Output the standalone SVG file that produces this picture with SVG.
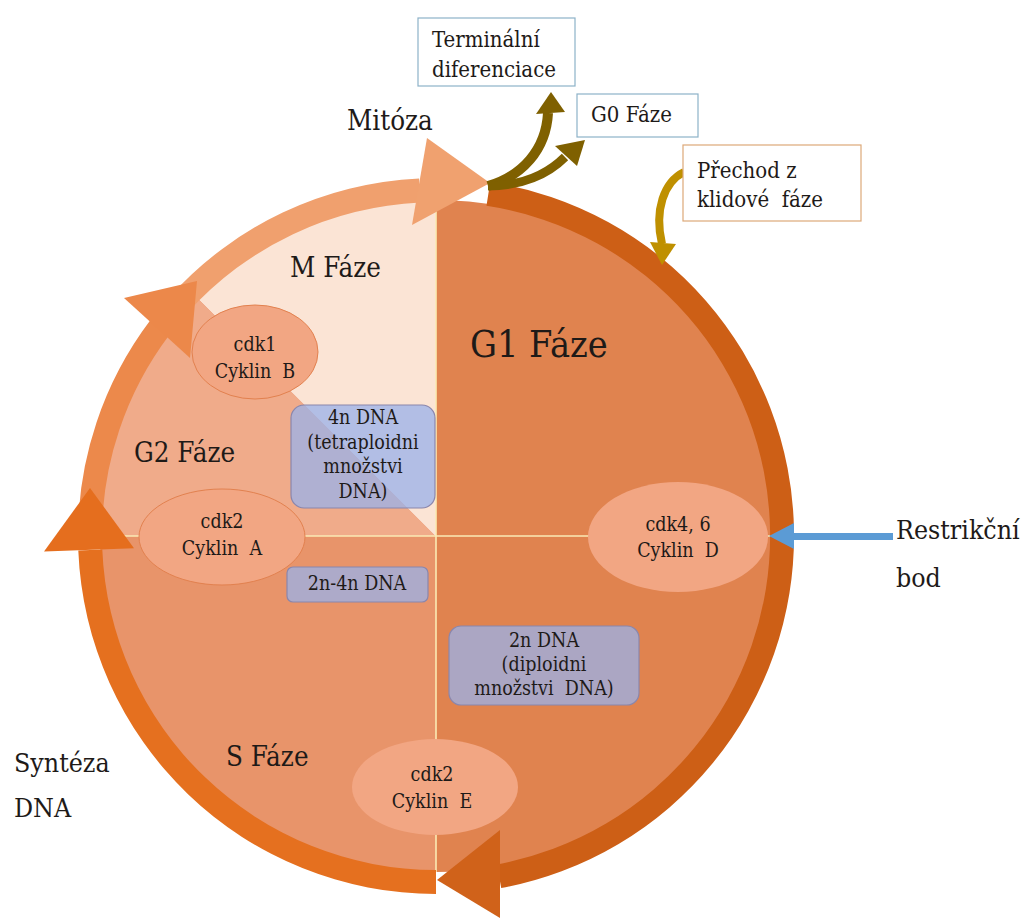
<svg xmlns="http://www.w3.org/2000/svg" width="1026" height="919" viewBox="0 0 1026 919">
  <style>
    text { font-family: 'DejaVu Serif Condensed', 'DejaVu Serif', serif; font-stretch: condensed; fill: #1e1a18; }
    .phase { font-size: 27.5px; }
    .side { font-size: 26.5px; }
    .big { font-size: 37.5px; }
    .small { font-size: 19.5px; text-anchor: middle; }
    .note { font-size: 22px; }
    .cyc { fill: #F2A683; stroke: #E2814F; stroke-width: 1; }
    .dna { fill: #9AB2EA; fill-opacity: 0.75; stroke: #8A86AC; stroke-width: 1.2; }
    .tag { fill: #FFFFFF; stroke-width: 1.2; }
    .div { stroke: #FBEAB4; stroke-width: 1.6; fill: none; }
  </style>

  <rect width="1026" height="919" fill="#FFFFFF"/>

  <!-- phase sectors of the cycle disc (centre 436,536) -->
  <g id="sectors">
    <path id="g1-sector" d="M436 536 L436 200 A336 336 0 0 1 436 872 Z" fill="#E0834F"/>
    <path id="s-sector" d="M436 536 L436 872 A336 336 0 0 1 100 536 Z" fill="#E8946A"/>
    <path id="g2-sector" d="M436 536 L100 536 A336 336 0 0 1 198.4 298.4 Z" fill="#F0AB8A"/>
    <path id="m-sector" d="M436 536 L198.4 298.4 A336 336 0 0 1 436 200 Z" fill="#FBE4D5"/>
    <line class="div" x1="436" y1="202" x2="436" y2="872"/>
    <line class="div" x1="100" y1="536" x2="772" y2="536"/>
  </g>

  <!-- ring arrows around the cycle -->
  <g id="connectors">
    <path id="band-g1" d="M490.2 182.1 A358 358 0 0 1 501.2 888.0 L496.9 864.4 A334 334 0 0 0 486.5 205.8 Z" fill="#CD5F16"/>
    <path id="band-s" d="M436 894 A358 358 0 0 1 78.3 550.4 L102.3 549.4 A334 334 0 0 0 436 870 Z" fill="#E5701F"/>
    <path id="band-g2" d="M78 536 A358 358 0 0 1 150.1 320.6 L169.3 335.0 A334 334 0 0 0 102 536 Z" fill="#EC894B"/>
    <path id="band-m" d="M170.0 296.5 A358 358 0 0 1 419.1 178.4 L420.3 202.4 A334 334 0 0 0 187.8 312.5 Z" fill="#F0A06E"/>

    <polygon id="head-g1" points="500,830 500,918 437,880" fill="#D0621A"/>
    <polygon id="head-s" points="44,551.5 134,548.2 90,488" fill="#E56E1E"/>
    <polygon id="head-g2" points="124,298 190,358 197,281" fill="#EC884A"/>
    <polygon id="head-m" points="427,138 412,225 490,183" fill="#F0A16F"/>

    <!-- exits from the cycle -->
    <g id="exit-terminal" fill="#7F6000">
      <path d="M488 186 C522 176, 546 150, 548 113" fill="none" stroke="#7F6000" stroke-width="10"/>
      <polygon points="536,114 565,112 551,92"/>
    </g>
    <g id="exit-g0" fill="#7F6000">
      <path d="M488 186 C522 186, 548 174, 565 157" fill="none" stroke="#7F6000" stroke-width="9"/>
      <polygon points="555,146 577,166 585,140"/>
    </g>
    <g id="reentry" fill="#BF9000">
      <path d="M684 172 C664 182, 654 210, 662 244" fill="none" stroke="#BF9000" stroke-width="8"/>
      <polygon points="650,242 676,244 662,265"/>
    </g>
    <g id="restriction-arrow" fill="#5B9BD5">
      <rect x="790" y="533" width="103" height="7"/>
      <polygon points="794,523 794,549 769,536"/>
    </g>
  </g>

  <!-- phase labels -->
  <g id="label-m"><text class="phase" x="290" y="277">M Fáze</text></g>
  <g id="label-g1"><text class="big" x="470" y="357">G1 Fáze</text></g>
  <g id="label-g2"><text class="phase" x="134" y="462">G2 Fáze</text></g>
  <g id="label-s"><text class="phase" x="226" y="766">S Fáze</text></g>
  <g id="label-mitoza"><text class="phase" x="347" y="130">Mitóza</text></g>
  <g id="label-restrikcni">
    <text class="side" x="896" y="539">Restrikční</text>
    <text class="side" x="896" y="587">bod</text>
  </g>
  <g id="label-synteza">
    <text class="side" x="14" y="772">Syntéza</text>
    <text class="side" x="14" y="817">DNA</text>
  </g>

  <!-- cyclin / cdk complexes -->
  <g id="cdk1-cyklin-b">
    <ellipse class="cyc" cx="255" cy="352" rx="63" ry="47"/>
    <text class="small" x="255" y="351">cdk1</text>
    <text class="small" x="255" y="378" xml:space="preserve">Cyklin  B</text>
  </g>
  <g id="cdk2-cyklin-a">
    <ellipse class="cyc" cx="222" cy="537" rx="83" ry="48"/>
    <text class="small" x="222" y="528">cdk2</text>
    <text class="small" x="222" y="555" xml:space="preserve">Cyklin  A</text>
  </g>
  <g id="cdk46-cyklin-d">
    <ellipse class="cyc" cx="678" cy="537" rx="90" ry="55" style="stroke:none"/>
    <text class="small" x="678" y="531">cdk4, 6</text>
    <text class="small" x="678" y="557" xml:space="preserve">Cyklin  D</text>
  </g>
  <g id="cdk2-cyklin-e">
    <ellipse class="cyc" cx="435" cy="787" rx="83" ry="48" style="stroke:none"/>
    <text class="small" x="432" y="781">cdk2</text>
    <text class="small" x="432" y="808" xml:space="preserve">Cyklin  E</text>
  </g>

  <!-- DNA content boxes -->
  <g id="dna-4n">
    <rect class="dna" x="291" y="405" width="144" height="103" rx="13"/>
    <text class="small" x="363" y="424">4n DNA</text>
    <text class="small" x="363" y="449">(tetraploidni</text>
    <text class="small" x="363" y="473">množstvi</text>
    <text class="small" x="363" y="498">DNA)</text>
  </g>
  <g id="dna-2n-4n">
    <rect class="dna" x="287" y="567" width="141" height="35" rx="6"/>
    <text class="small" x="357" y="590">2n-4n DNA</text>
  </g>
  <g id="dna-2n">
    <rect class="dna" x="449" y="626" width="190" height="79" rx="12"/>
    <text class="small" x="544" y="647">2n DNA</text>
    <text class="small" x="544" y="671">(diploidni</text>
    <text class="small" x="544" y="695" xml:space="preserve">množstvi  DNA)</text>
  </g>

  <!-- outcome notes -->
  <g id="note-terminal">
    <rect class="tag" x="418" y="18" width="157" height="68" stroke="#8DB2C8"/>
    <text class="note" x="432" y="47">Terminální</text>
    <text class="note" x="432" y="77">diferenciace</text>
  </g>
  <g id="note-g0">
    <rect class="tag" x="577" y="94" width="121" height="43" stroke="#8DB2C8"/>
    <text class="note" x="591" y="122">G0 Fáze</text>
  </g>
  <g id="note-prechod">
    <rect class="tag" x="683" y="145" width="178" height="76" stroke="#DDA878"/>
    <text class="note" x="697" y="178">Přechod z</text>
    <text class="note" x="697" y="207" xml:space="preserve">klidové  fáze</text>
  </g>
</svg>
